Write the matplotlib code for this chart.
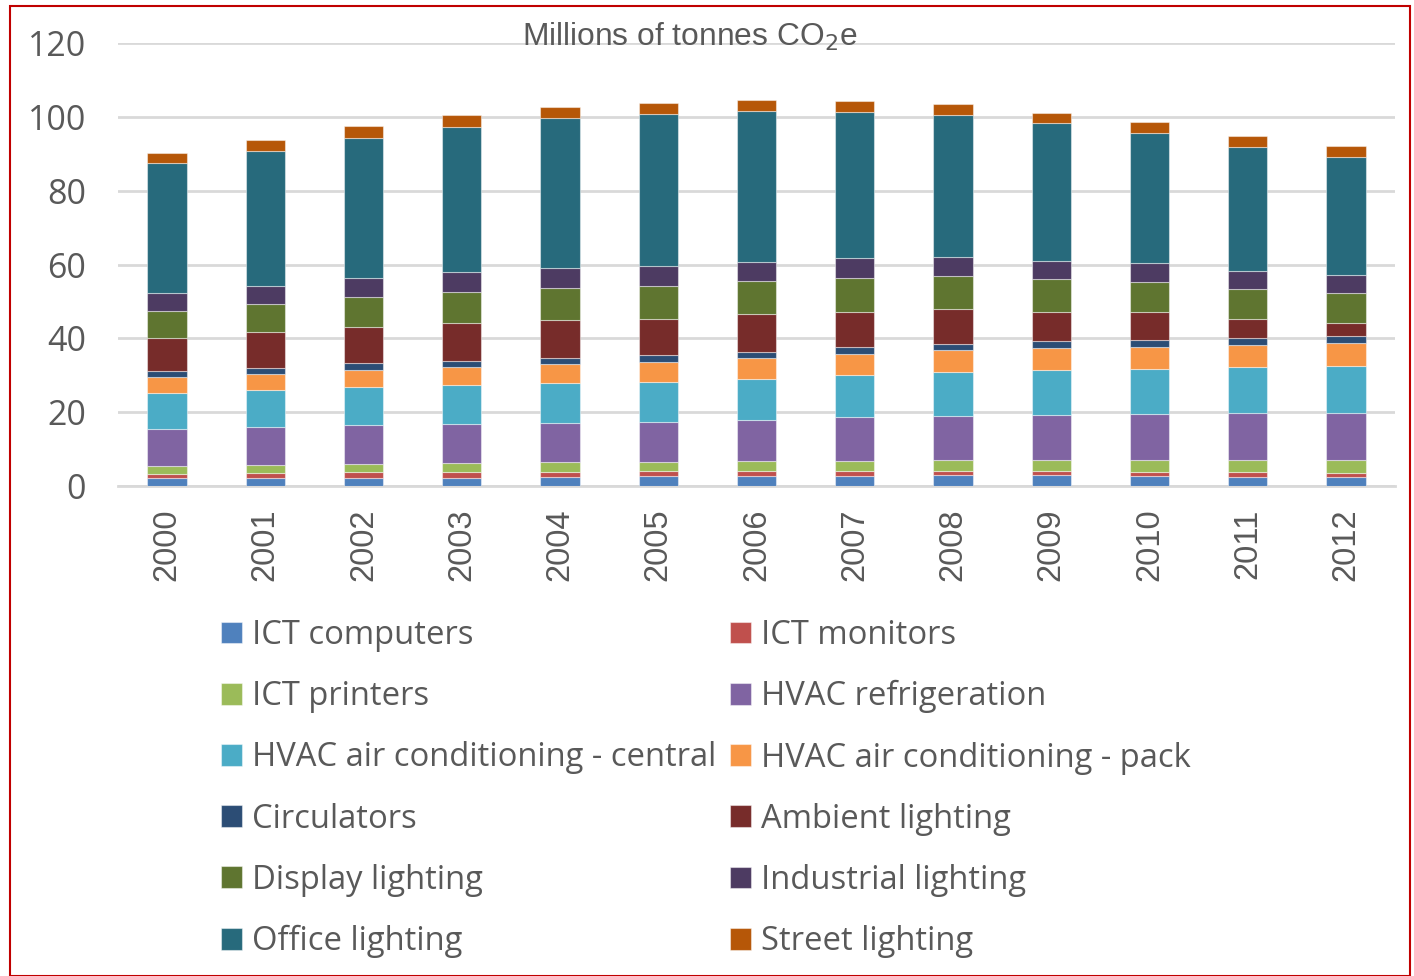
import matplotlib
matplotlib.use("Agg")
import matplotlib.pyplot as plt
from matplotlib.patches import Rectangle
import numpy as np

years = ["2000", "2001", "2002", "2003", "2004", "2005", "2006",
         "2007", "2008", "2009", "2010", "2011", "2012"]

series_names = ["ICT computers", "ICT monitors", "ICT printers", "HVAC refrigeration",
                "HVAC air conditioning - central", "HVAC air conditioning - pack",
                "Circulators", "Ambient lighting", "Display lighting",
                "Industrial lighting", "Office lighting", "Street lighting"]

ict_computers = [2.1, 2.2, 2.3, 2.3, 2.4, 2.6, 2.8, 2.8, 2.9, 2.9, 2.7, 2.5, 2.4]
ict_monitors = [1.2, 1.3, 1.4, 1.5, 1.5, 1.5, 1.2, 1.3, 1.2, 1.2, 1.2, 1.2, 1.2]
ict_printers = [2.1, 2.2, 2.3, 2.4, 2.5, 2.5, 2.8, 2.7, 2.9, 2.9, 3.1, 3.3, 3.4]
hvac_refrigeration = [10.0, 10.2, 10.4, 10.5, 10.8, 10.8, 11.1, 11.8, 12.0, 12.1, 12.4, 12.7, 12.9]
hvac_central = [9.9, 10.0, 10.5, 10.6, 10.6, 10.9, 11.2, 11.5, 12.0, 12.2, 12.4, 12.5, 12.7]
hvac_pack = [4.1, 4.4, 4.6, 4.8, 5.2, 5.3, 5.5, 5.7, 5.8, 6.1, 5.9, 6.1, 6.2]
circulators = [1.7, 1.6, 1.7, 1.7, 1.6, 1.8, 1.6, 1.8, 1.8, 1.8, 1.8, 1.8, 1.7]
ambient_lighting = [9.1, 9.7, 10.0, 10.3, 10.4, 9.8, 10.3, 9.6, 9.3, 8.0, 7.5, 5.2, 3.6]
display_lighting = [7.2, 7.6, 8.0, 8.4, 8.5, 9.1, 8.9, 9.2, 8.9, 8.8, 8.3, 8.1, 8.1]
industrial_lighting = [4.8, 4.9, 5.1, 5.4, 5.5, 5.3, 5.4, 5.3, 5.1, 5.0, 5.0, 4.9, 4.9]
office_lighting = [35.2, 36.7, 38.1, 39.4, 40.8, 41.2, 40.7, 39.5, 38.6, 37.2, 35.4, 33.4, 32.1]
street_lighting = [2.8, 2.8, 3.0, 3.1, 2.9, 3.0, 3.0, 3.2, 3.1, 2.9, 2.9, 3.2, 3.0]

series_values = [ict_computers, ict_monitors, ict_printers, hvac_refrigeration,
                 hvac_central, hvac_pack, circulators, ambient_lighting,
                 display_lighting, industrial_lighting, office_lighting, street_lighting]

colors = ["#4F81BD", "#C0504D", "#9BBB59", "#8064A2", "#4BACC6", "#F79646",
          "#2C4D75", "#772C2A", "#5F7530", "#4D3B62", "#276A7C", "#B65708"]

y_ticks = [0, 20, 40, 60, 80, 100, 120]

plt.rcParams["font.family"] = ["Open Sans", "DejaVu Sans"]
TXT = "#595959"

fig = plt.figure(figsize=(14.14, 9.76), dpi=100)
ax = fig.add_axes([118/1414, 1-486/976, (1395-118)/1414, (486-43)/976])

x = np.arange(len(years))
bottom = np.zeros(len(years))
handles = []
for name, vals, col in zip(series_names, series_values, colors):
    v = np.array(vals)
    b = ax.bar(x, v, 0.4, bottom=bottom, color=col, edgecolor=(1, 1, 1, 0.45),
               linewidth=0.8, label=name, zorder=3)
    handles.append(b)
    bottom += v

ax.set_xlim(-0.5, len(years) - 0.5)
ax.set_ylim(0, 120)
ax.set_yticks(y_ticks)
ax.set_yticklabels([str(t) for t in y_ticks], fontsize=24.5, color=TXT)
ax.set_xticks(x)
ax.set_xticklabels(years, rotation=90, fontsize=23.5, color=TXT,
                   family=["Liberation Sans", "DejaVu Sans"])
ax.tick_params(axis="both", length=0)
ax.tick_params(axis="y", pad=23)
ax.tick_params(axis="x", pad=16)
for s in ["top", "right", "left"]:
    ax.spines[s].set_visible(False)
ax.spines["bottom"].set_color("#D9D9D9")
ax.spines["bottom"].set_linewidth(2)
ax.yaxis.grid(True, color="#D9D9D9", linewidth=2, zorder=0)
ax.set_axisbelow(True)

fig.text(690/1414, 1-37/976, "Millions of tonnes CO$_2$e", ha="center", va="center",
         fontsize=22.9, color=TXT, family=["Liberation Sans", "DejaVu Sans"])

order = [0, 2, 4, 6, 8, 10, 1, 3, 5, 7, 9, 11]
leg = fig.legend([handles[i] for i in order], [series_names[i] for i in order],
                 ncol=2, loc="upper left", bbox_to_anchor=(221/1414, 1-619/976),
                 frameon=False, fontsize=23.6, handlelength=0.65, handleheight=0.65,
                 handletextpad=0.3, columnspacing=0.4, labelspacing=0.86,
                 labelcolor=TXT, borderaxespad=0, borderpad=0)

fig.patches.append(Rectangle((10/1414, 0), 1400/1414, 1-6/976, transform=fig.transFigure,
                             fill=False, edgecolor="#C00000", linewidth=1.5))

fig.savefig("out.png", dpi=100)
